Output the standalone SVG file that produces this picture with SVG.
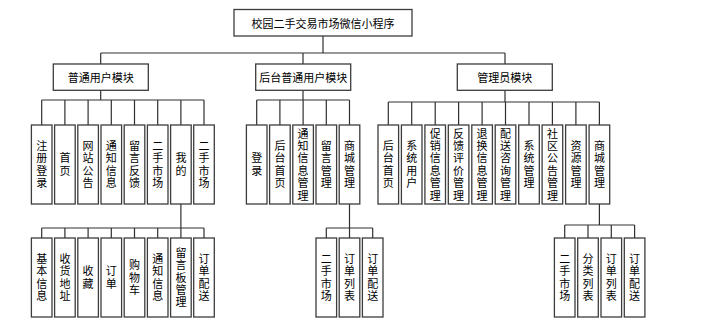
<svg xmlns="http://www.w3.org/2000/svg" width="707" height="327" viewBox="0 0 707 327">
<style>
rect.b{fill:#fff;stroke:#3c3c3c;stroke-width:1.3}
text{font-family:"Noto Sans CJK SC","Liberation Sans",sans-serif;font-size:11px;fill:#000;text-anchor:middle;dominant-baseline:central}
text.v{writing-mode:vertical-rl;text-orientation:upright;letter-spacing:1.4px}
#connectors path{fill:none;stroke:#303030;stroke-width:1.2}
</style>
<rect x="0" y="0" width="707" height="327" fill="#fff"/>
<g id="connectors">
<path d="M323 36V53M100.7 53H505M100.7 53V64M303 53V64M505 53V64"/>
<path d="M100.7 90V100M41.7 100H204M41.7 100V125M64.9 100V125M88.1 100V125M111.3 100V125M134.5 100V125M157.7 100V125M180.9 100V125M204 100V125"/>
<path d="M180.9 204V228M41.7 228H204M41.7 228V238M64.9 228V238M88.1 228V238M111.3 228V238M134.5 228V238M157.7 228V238M180.9 228V238M204 228V238"/>
<path d="M303 90V100M256.7 100H349.5M256.7 100V125M279.9 100V125M303.1 100V125M326.3 100V125M349.5 100V125"/>
<path d="M349.5 204V228M326.3 228H372.7M326.3 228V238M349.5 228V238M372.7 228V238"/>
<path d="M505 90V102M388.3 102H599.4M388.3 102V125M411.7 102V125M435.2 102V125M458.6 102V125M482.1 102V125M505.5 102V125M529 102V125M552.4 102V125M575.9 102V125M599.4 102V125"/>
<path d="M599.4 204V225M564.7 225H634.6M564.7 225V238M588 225V238M611.3 225V238M634.6 225V238"/>
</g>
<g id="root"><rect class="b" x="234" y="9.5" width="178" height="26.5"/><text x="323" y="22.5">校园二手交易市场微信小程序</text></g>
<g id="m1"><rect class="b" x="53.3" y="64" width="95" height="26.3"/><text x="100.8" y="77">普通用户模块</text></g>
<g id="m2"><rect class="b" x="255.7" y="64" width="95" height="26.3"/><text x="303.2" y="77">后台普通用户模块</text></g>
<g id="m3"><rect class="b" x="457.3" y="64" width="95" height="26.3"/><text x="504.8" y="77">管理员模块</text></g>

<g id="u1"><rect class="b" x="31.4" y="125" width="20.6" height="79"/><text class="v" x="41.7" y="165.2">注册登录</text></g>
<g id="u2"><rect class="b" x="54.6" y="125" width="20.6" height="79"/><text class="v" x="64.9" y="165.2">首页</text></g>
<g id="u3"><rect class="b" x="77.8" y="125" width="20.6" height="79"/><text class="v" x="88.1" y="165.2">网站公告</text></g>
<g id="u4"><rect class="b" x="101" y="125" width="20.6" height="79"/><text class="v" x="111.3" y="165.2">通知信息</text></g>
<g id="u5"><rect class="b" x="124.2" y="125" width="20.6" height="79"/><text class="v" x="134.5" y="165.2">留言反馈</text></g>
<g id="u6"><rect class="b" x="147.4" y="125" width="20.6" height="79"/><text class="v" x="157.7" y="165.2">二手市场</text></g>
<g id="u7"><rect class="b" x="170.6" y="125" width="20.6" height="79"/><text class="v" x="180.9" y="165.2">我的</text></g>
<g id="u8"><rect class="b" x="193.7" y="125" width="20.6" height="79"/><text class="v" x="204" y="165.2">二手市场</text></g>

<g id="w1"><rect class="b" x="31.4" y="238" width="20.6" height="79"/><text class="v" x="41.7" y="278.2">基本信息</text></g>
<g id="w2"><rect class="b" x="54.6" y="238" width="20.6" height="79"/><text class="v" x="64.9" y="278.2">收货地址</text></g>
<g id="w3"><rect class="b" x="77.8" y="238" width="20.6" height="79"/><text class="v" x="88.1" y="278.2">收藏</text></g>
<g id="w4"><rect class="b" x="101" y="238" width="20.6" height="79"/><text class="v" x="111.3" y="278.2">订单</text></g>
<g id="w5"><rect class="b" x="124.2" y="238" width="20.6" height="79"/><text class="v" x="134.5" y="278.2">购物车</text></g>
<g id="w6"><rect class="b" x="147.4" y="238" width="20.6" height="79"/><text class="v" x="157.7" y="278.2">通知信息</text></g>
<g id="w7"><rect class="b" x="170.6" y="238" width="20.6" height="79"/><text class="v" x="180.9" y="278.2">留言板管理</text></g>
<g id="w8"><rect class="b" x="193.7" y="238" width="20.6" height="79"/><text class="v" x="204" y="278.2">订单配送</text></g>

<g id="h1"><rect class="b" x="246.4" y="125" width="20.6" height="79"/><text class="v" x="256.7" y="165.2">登录</text></g>
<g id="h2"><rect class="b" x="269.6" y="125" width="20.6" height="79"/><text class="v" x="279.9" y="165.2">后台首页</text></g>
<g id="h3"><rect class="b" x="292.8" y="125" width="20.6" height="79"/><text class="v" x="303.1" y="165.2">通知信息管理</text></g>
<g id="h4"><rect class="b" x="316" y="125" width="20.6" height="79"/><text class="v" x="326.3" y="165.2">留言管理</text></g>
<g id="h5"><rect class="b" x="339.2" y="125" width="20.6" height="79"/><text class="v" x="349.5" y="165.2">商城管理</text></g>

<g id="hs1"><rect class="b" x="316" y="238" width="20.6" height="79"/><text class="v" x="326.3" y="278.2">二手市场</text></g>
<g id="hs2"><rect class="b" x="339.2" y="238" width="20.6" height="79"/><text class="v" x="349.5" y="278.2">订单列表</text></g>
<g id="hs3"><rect class="b" x="362.4" y="238" width="20.6" height="79"/><text class="v" x="372.7" y="278.2">订单配送</text></g>

<g id="a1"><rect class="b" x="378" y="125" width="20.6" height="79"/><text class="v" x="388.3" y="165.2">后台首页</text></g>
<g id="a2"><rect class="b" x="401.4" y="125" width="20.6" height="79"/><text class="v" x="411.7" y="165.2">系统用户</text></g>
<g id="a3"><rect class="b" x="424.9" y="125" width="20.6" height="79"/><text class="v" x="435.2" y="165.2">促销信息管理</text></g>
<g id="a4"><rect class="b" x="448.3" y="125" width="20.6" height="79"/><text class="v" x="458.6" y="165.2">反馈评价管理</text></g>
<g id="a5"><rect class="b" x="471.8" y="125" width="20.6" height="79"/><text class="v" x="482.1" y="165.2">退换信息管理</text></g>
<g id="a6"><rect class="b" x="495.2" y="125" width="20.6" height="79"/><text class="v" x="505.5" y="165.2">配送咨询管理</text></g>
<g id="a7"><rect class="b" x="518.7" y="125" width="20.6" height="79"/><text class="v" x="529" y="165.2">系统管理</text></g>
<g id="a8"><rect class="b" x="542.1" y="125" width="20.6" height="79"/><text class="v" x="552.4" y="165.2">社区公告管理</text></g>
<g id="a9"><rect class="b" x="565.6" y="125" width="20.6" height="79"/><text class="v" x="575.9" y="165.2">资源管理</text></g>
<g id="a10"><rect class="b" x="589.1" y="125" width="20.6" height="79"/><text class="v" x="599.4" y="165.2">商城管理</text></g>

<g id="as1"><rect class="b" x="554.4" y="238" width="20.6" height="79"/><text class="v" x="564.7" y="278.2">二手市场</text></g>
<g id="as2"><rect class="b" x="577.7" y="238" width="20.6" height="79"/><text class="v" x="588" y="278.2">分类列表</text></g>
<g id="as3"><rect class="b" x="601" y="238" width="20.6" height="79"/><text class="v" x="611.3" y="278.2">订单列表</text></g>
<g id="as4"><rect class="b" x="624.3" y="238" width="20.6" height="79"/><text class="v" x="634.6" y="278.2">订单配送</text></g>
</svg>
